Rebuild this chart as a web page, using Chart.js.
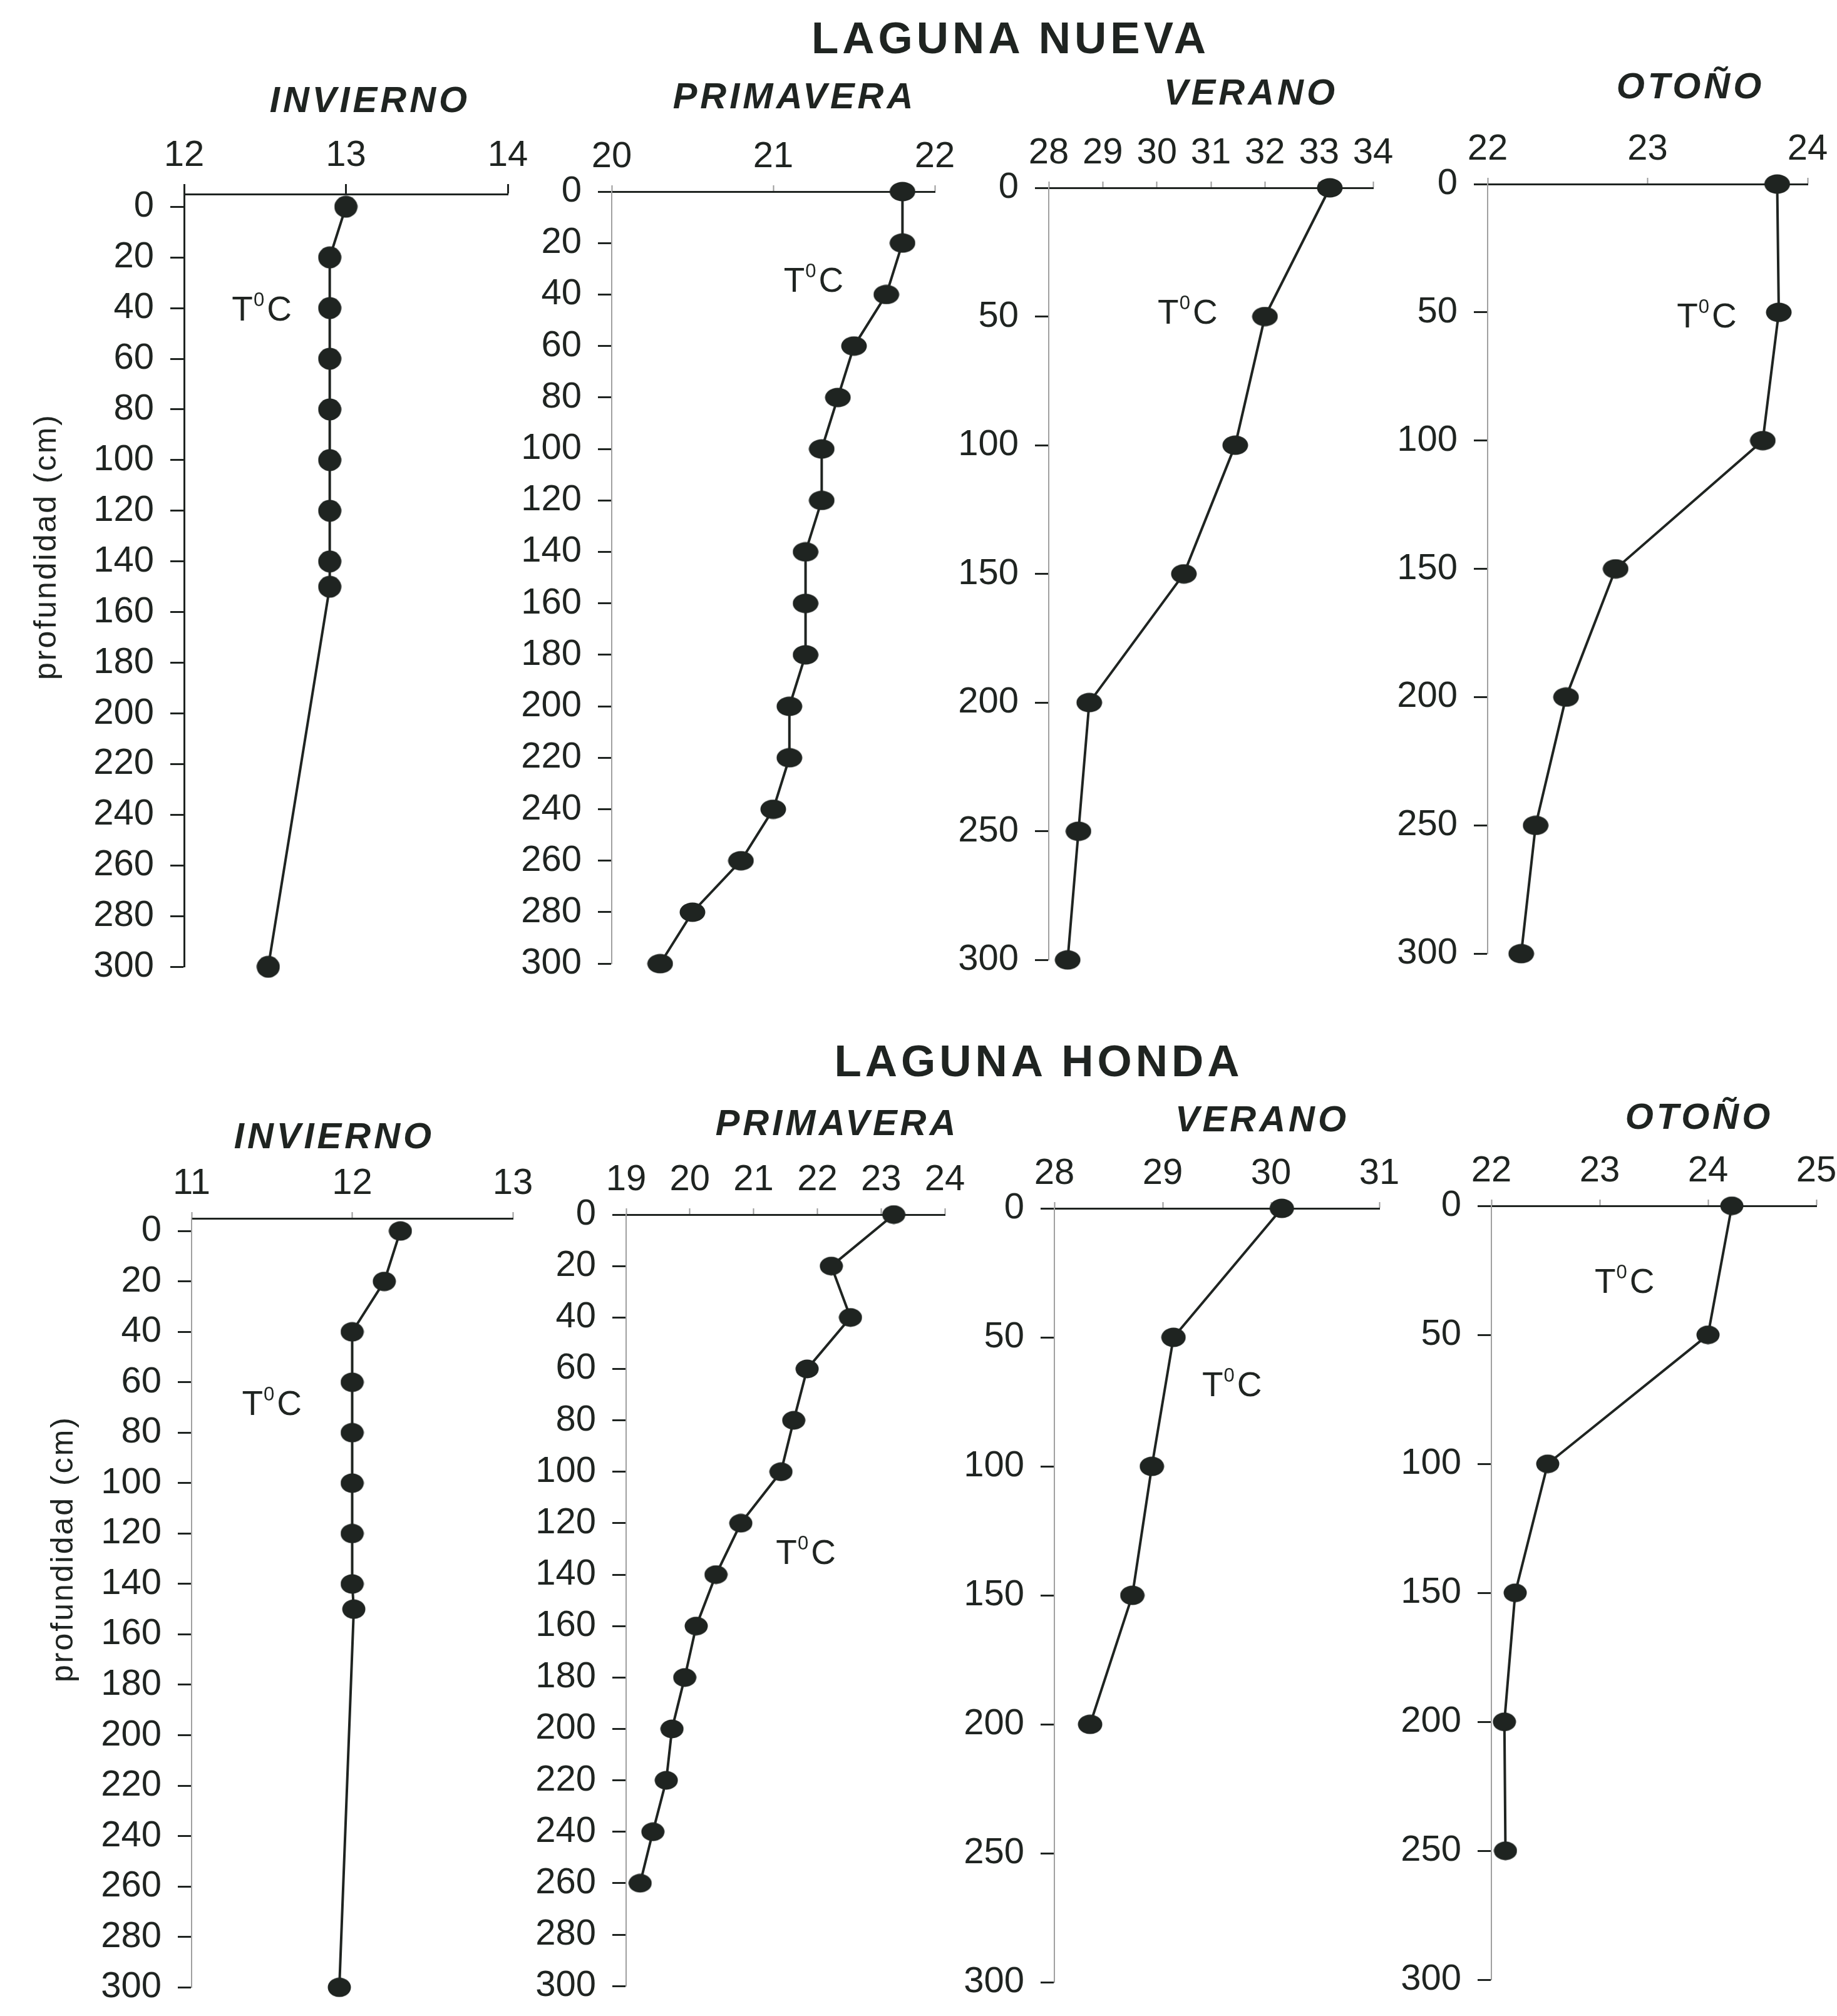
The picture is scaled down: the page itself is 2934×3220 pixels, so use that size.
<!DOCTYPE html>
<html>
<head>
<meta charset="utf-8">
<script src="https://cdn.jsdelivr.net/npm/chart.js@4.4.1/dist/chart.umd.min.js"></script>
<style>
  body { margin: 0; background: #fff; }
  #page { position: relative; width: 2934px; height: 3220px; font-family: "Liberation Sans", Arial, sans-serif; color: #1f2421; overflow: hidden; }
  #page canvas { position: absolute; }
  .lake { position: absolute; font-weight: bold; font-size: 71px; letter-spacing: 6px; transform: translate(-50%, -50%); white-space: nowrap; }
  .season { position: absolute; font-weight: bold; font-style: italic; font-size: 58px; letter-spacing: 5px; transform: translate(-50%, -50%); white-space: nowrap; }
  .ytitle { position: absolute; font-size: 50px; letter-spacing: 3px; transform: translate(-50%, -50%) rotate(-90deg); white-space: nowrap; }
</style>
</head>
<body>
<div id="page"></div>
<script>
// depth (cm) and water temperature (°C) profiles, Laguna Nueva
const depthNuevaInvierno = [0, 20, 40, 60, 80, 100, 120, 140, 150, 300];
const tempNuevaInvierno = [13.0, 12.9, 12.9, 12.9, 12.9, 12.9, 12.9, 12.9, 12.9, 12.52];
const depthNuevaPrimavera = [0, 20, 40, 60, 80, 100, 120, 140, 160, 180, 200, 220, 240, 260, 280, 300];
const tempNuevaPrimavera = [21.8, 21.8, 21.7, 21.5, 21.4, 21.3, 21.3, 21.2, 21.2, 21.2, 21.1, 21.1, 21.0, 20.8, 20.5, 20.3];
const depthNuevaVerano = [0, 50, 100, 150, 200, 250, 300];
const tempNuevaVerano = [33.2, 32.0, 31.45, 30.5, 28.75, 28.55, 28.35];
const depthNuevaOtono = [0, 50, 100, 150, 200, 250, 300];
const tempNuevaOtono = [23.81, 23.82, 23.72, 22.8, 22.49, 22.3, 22.21];

// Laguna Honda
const depthHondaInvierno = [0, 20, 40, 60, 80, 100, 120, 140, 150, 300];
const tempHondaInvierno = [12.3, 12.2, 12.0, 12.0, 12.0, 12.0, 12.0, 12.0, 12.01, 11.92];
const depthHondaPrimavera = [0, 20, 40, 60, 80, 100, 120, 140, 160, 180, 200, 220, 240, 260];
const tempHondaPrimavera = [23.2, 22.22, 22.52, 21.84, 21.63, 21.43, 20.8, 20.41, 20.1, 19.92, 19.72, 19.63, 19.42, 19.22];
const depthHondaVerano = [0, 50, 100, 150, 200];
const tempHondaVerano = [30.1, 29.1, 28.9, 28.72, 28.33];
const depthHondaOtono = [0, 50, 100, 150, 200, 250];
const tempHondaOtono = [24.22, 24.0, 22.52, 22.22, 22.12, 22.13];

// axis tick labels
const depthTicks20 = [0, 20, 40, 60, 80, 100, 120, 140, 160, 180, 200, 220, 240, 260, 280, 300];
const depthTicks50 = [0, 50, 100, 150, 200, 250, 300];

const ink = '#1f2421';
const family = '"Liberation Sans", Arial, sans-serif';
const AXIS_W = 180, AXIS_H = 110, PAD_R = 50, PAD_B = 40;

function dotImage(w, h) {
  const c = document.createElement('canvas');
  c.width = w; c.height = h;
  const g = c.getContext('2d');
  g.fillStyle = ink;
  g.beginPath();
  g.ellipse(w / 2, h / 2, w / 2 - 0.5, h / 2 - 0.5, 0, 0, Math.PI * 2);
  g.fill();
  return c;
}

// area = [left, top, right, bottom] of the plotting box on the page
const panels = [
  { season: 'INVIERNO', depth: depthNuevaInvierno, temp: tempNuevaInvierno, xMin: 12, xMax: 14, yMin: -5, yTicks: depthTicks20,
    solid: true, area: [294, 310, 811, 1565], title: [591, 158], label: [12.48, 40], dot: [38, 36] },
  { season: 'PRIMAVERA', depth: depthNuevaPrimavera, temp: tempNuevaPrimavera, xMin: 20, xMax: 22, yMin: 0, yTicks: depthTicks20,
    solid: false, area: [977, 306, 1493, 1560], title: [1269, 152], label: [21.25, 34], dot: [42, 32] },
  { season: 'VERANO', depth: depthNuevaVerano, temp: tempNuevaVerano, xMin: 28, xMax: 34, yMin: 0, yTicks: depthTicks50,
    solid: false, area: [1675, 300, 2193, 1554], title: [1998, 146], label: [30.57, 48], dot: [42, 32] },
  { season: 'OTOÑO', depth: depthNuevaOtono, temp: tempNuevaOtono, xMin: 22, xMax: 24, yMin: 0, yTicks: depthTicks50,
    solid: false, area: [2376, 294, 2887, 1544], title: [2700, 136], label: [23.37, 51], dot: [42, 32] },
  { season: 'INVIERNO', depth: depthHondaInvierno, temp: tempHondaInvierno, xMin: 11, xMax: 13, yMin: -5, yTicks: depthTicks20,
    solid: false, area: [306, 1946, 819, 3195], title: [534, 1813], label: [11.5, 68], dot: [38, 32] },
  { season: 'PRIMAVERA', depth: depthHondaPrimavera, temp: tempHondaPrimavera, xMin: 19, xMax: 24, yMin: 0, yTicks: depthTicks20,
    solid: false, area: [1000, 1940, 1509, 3193], title: [1337, 1792], label: [21.82, 131], dot: [38, 31] },
  { season: 'VERANO', depth: depthHondaVerano, temp: tempHondaVerano, xMin: 28, xMax: 31, yMin: 0, yTicks: depthTicks50,
    solid: false, area: [1684, 1930, 2203, 3187], title: [2016, 1786], label: [29.64, 68], dot: [40, 32] },
  { season: 'OTOÑO', depth: depthHondaOtono, temp: tempHondaOtono, xMin: 22, xMax: 25, yMin: 0, yTicks: depthTicks50,
    solid: false, area: [2382, 1926, 2901, 3183], title: [2714, 1782], label: [23.23, 29], dot: [38, 31] }
];

// "T°C" tag placed in data coordinates
const tempLabel = {
  id: 'tempLabel',
  afterDatasetsDraw(chart, args, opts) {
    const { ctx, scales } = chart;
    const px = scales.x.getPixelForValue(opts.x);
    const py = scales.y.getPixelForValue(opts.y);
    ctx.save();
    ctx.fillStyle = ink;
    ctx.textBaseline = 'alphabetic';
    ctx.textAlign = 'left';
    ctx.font = '55px ' + family;
    const wT = ctx.measureText('T').width;
    const wC = ctx.measureText('C').width;
    ctx.font = '31px ' + family;
    const w0 = ctx.measureText('0').width;
    let x = px - (wT + w0 + wC + 5) / 2;
    const base = py + 20;
    ctx.font = '55px ' + family;
    ctx.fillText('T', x, base);
    x += wT + 1;
    ctx.font = '31px ' + family;
    ctx.fillText('0', x, base - 23);
    x += w0 + 4;
    ctx.font = '55px ' + family;
    ctx.fillText('C', x, base);
    ctx.restore();
  }
};

const page = document.getElementById('page');

function addText(cls, text, pos) {
  const d = document.createElement('div');
  d.className = cls;
  d.textContent = text;
  d.style.left = pos[0] + 'px';
  d.style.top = pos[1] + 'px';
  page.appendChild(d);
}

addText('lake', 'LAGUNA NUEVA', [1614, 60]);
addText('lake', 'LAGUNA HONDA', [1659, 1694]);
addText('ytitle', 'profundidad (cm)', [72, 873]);
addText('ytitle', 'profundidad (cm)', [99, 2474]);

panels.forEach(p => {
  addText('season', p.season, p.title);

  const [L, T, R, B] = p.area;
  const canvas = document.createElement('canvas');
  canvas.width = (R - L) + AXIS_W + PAD_R;
  canvas.height = (B - T) + AXIS_H + PAD_B;
  canvas.style.left = (L - AXIS_W) + 'px';
  canvas.style.top = (T - AXIS_H) + 'px';
  page.appendChild(canvas);

  new Chart(canvas.getContext('2d'), {
    type: 'line',
    data: {
      datasets: [{
        data: p.depth.map((d, i) => ({ x: p.temp[i], y: d })),
        borderColor: ink,
        borderWidth: 4,
        tension: 0,
        pointStyle: dotImage(p.dot[0], p.dot[1]),
        clip: false
      }]
    },
    options: {
      responsive: false,
      animation: false,
      layout: { padding: { left: 0, top: 0, right: PAD_R, bottom: PAD_B } },
      plugins: {
        legend: { display: false },
        tooltip: { enabled: false },
        tempLabel: { x: p.label[0], y: p.label[1] }
      },
      scales: {
        x: {
          type: 'linear',
          position: 'top',
          min: p.xMin,
          max: p.xMax,
          afterFit: s => { s.height = AXIS_H; },
          ticks: { stepSize: 1, color: ink, font: { size: 58, family: family }, padding: 10, maxRotation: 0 },
          grid: { drawOnChartArea: false, drawTicks: true, tickLength: p.solid ? 16 : 10,
                  tickWidth: p.solid ? 3 : 2, tickColor: p.solid ? ink : '#9a9a9a' },
          border: { display: true, color: ink, width: 3 }
        },
        y: {
          type: 'linear',
          reverse: true,
          min: p.yMin,
          max: 300,
          afterBuildTicks: s => { s.ticks = p.yTicks.map(v => ({ value: v })); },
          afterFit: s => { s.width = AXIS_W; },
          ticks: { color: ink, font: { size: 58, family: family }, padding: 26 },
          grid: { drawOnChartArea: false, drawTicks: true, tickLength: 22, tickWidth: 3, tickColor: ink },
          border: { display: true, color: p.solid ? ink : '#a0a0a0', width: p.solid ? 3 : 2, dash: p.solid ? [] : [10, 7] }
        }
      }
    },
    plugins: [tempLabel]
  });
});
</script>
</body>
</html>
